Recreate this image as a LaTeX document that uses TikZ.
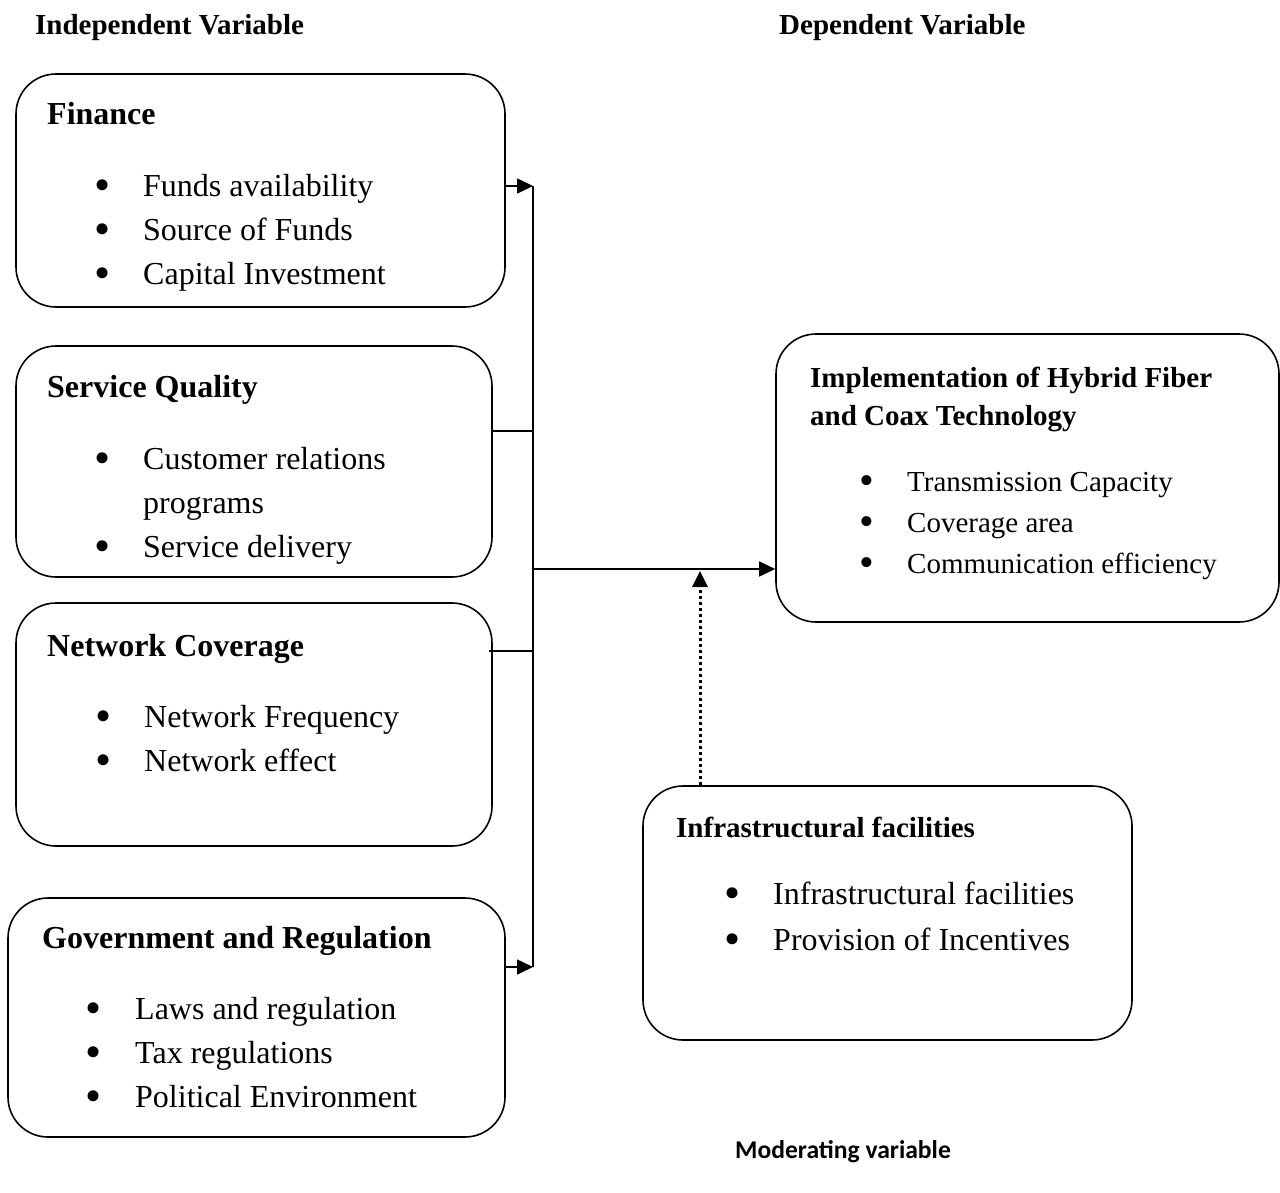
\documentclass[tikz,border=0pt]{standalone}
\usepackage{fontspec}
\setmainfont{Liberation Serif}
\newfontfamily\calibri{Carlito}
\usetikzlibrary{arrows.meta}
% bullet list: first column holds the bullet
\newcommand{\bul}{\smash{\raisebox{-4.5pt}{\fontsize{46}{44}\selectfont\textbullet}}}
\newcommand{\bulsm}{\smash{\raisebox{-3.5pt}{\fontsize{42}{41}\selectfont\textbullet}}}
\newcommand{\bitems}[2]{\begin{tabular}[t]{@{}p{#1}@{}l@{}}#2\end{tabular}}

\begin{document}
\begin{tikzpicture}[x=1pt, y=-1pt,
    box/.style={draw, line width=1.6pt, rounded corners=40pt, inner sep=0pt},
    ttl/.style={anchor=base west, inner sep=0pt, font=\bfseries\fontsize{32}{38}\selectfont},
    ttlsm/.style={ttl, font=\bfseries\fontsize{29}{38}\selectfont},
    lst/.style={anchor=base west, inner sep=0pt, font=\fontsize{32}{44}\selectfont},
    lstsm/.style={lst, font=\fontsize{29}{41}\selectfont},
    link/.style={line width=1.6pt},
    arr/.style={link, -{Triangle[length=16pt, width=15pt]}}]
  \useasboundingbox (0,0) rectangle (1280,1192);

  % headings
  \node[ttlsm] (indep) at (35,34) {Independent Variable};
  \node[ttlsm] (dep) at (779,34) {Dependent Variable};
  \node[anchor=base west, inner sep=0pt, font=\calibri\bfseries\fontsize{25.6}{30}\selectfont]
    (moder) at (735,1158) {Moderating variable};

  % independent variables
  \node[box, minimum width=489pt, minimum height=233pt] (fin) at (260.5,190.5) {};
  \node[ttl] (fint) at (47,124) {Finance};
  \node[lst] (finl) at (94,196) {\bitems{49pt}{%
      \bul & Funds availability\\
      \bul & Source of Funds\\
      \bul & Capital Investment}};

  \node[box, minimum width=476pt, minimum height=231pt] (serv) at (254,461.5) {};
  \node[ttl] (servt) at (47,397) {Service Quality};
  \node[lst] (servl) at (94,469) {\bitems{49pt}{%
      \bul & Customer relations\\
           & programs\\
      \bul & Service delivery}};

  \node[box, minimum width=476pt, minimum height=243pt] (netw) at (254,724.5) {};
  \node[ttl] (netwt) at (47,656) {Network Coverage};
  \node[lst] (netwl) at (95,727) {\bitems{49pt}{%
      \bul & Network Frequency\\
      \bul & Network effect}};

  \node[box, minimum width=497pt, minimum height=239pt] (gov) at (256.5,1017.5) {};
  \node[ttl] (govt) at (42,948) {Government and Regulation};
  \node[lst] (govl) at (85,1019) {\bitems{50pt}{%
      \bul & Laws and regulation\\
      \bul & Tax regulations\\
      \bul & Political Environment}};

  % dependent variable
  \node[box, minimum width=503pt, minimum height=288pt] (impl) at (1027.5,478) {};
  \node[ttlsm] (implt) at (810,387) {\begin{tabular}[t]{@{}l@{}}
      Implementation of Hybrid Fiber\\
      and Coax Technology\end{tabular}};
  \node[lstsm] (impll) at (859,491) {\bitems{48pt}{%
      \bulsm & Transmission Capacity\\
      \bulsm & Coverage area\\
      \bulsm & Communication efficiency}};

  % moderating variable
  \node[box, minimum width=489pt, minimum height=254pt] (infra) at (887.5,913) {};
  \node[ttlsm] (infrat) at (676,837) {Infrastructural facilities};
  \node[lst, font=\fontsize{32}{46}\selectfont] (infral) at (724,904) {\bitems{49pt}{%
      \bul & Infrastructural facilities\\
      \bul & Provision of Incentives}};

  % connectors
  \coordinate (bustop) at (533,186);
  \coordinate (busbot) at (533,967);
  \coordinate (servtap) at (533,431);
  \coordinate (netwtap) at (533,651);
  \coordinate (busmid) at (533,569);
  \coordinate (modtip) at (700,571);
  \draw[link] (bustop) -- (busbot);
  \draw[arr] (fin.east |- bustop) -- (bustop);
  \draw[arr] (gov.east |- busbot) -- (busbot);
  \draw[link] (serv.east |- servtap) -- (servtap);
  \draw[link] (489,651) -- (netwtap);
  \draw[arr] (busmid) -- (impl.west |- busmid);
  \draw[arr, line width=3pt, dash pattern=on 3pt off 3pt]
    (infra.north -| modtip) -- (modtip);
\end{tikzpicture}
\end{document}
